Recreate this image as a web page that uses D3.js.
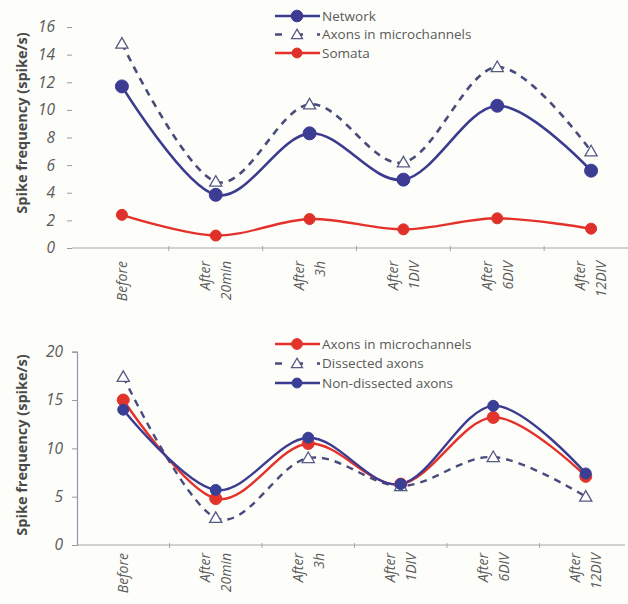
<!DOCTYPE html>
<html>
<head>
<meta charset="utf-8">
<script src="https://cdn.jsdelivr.net/npm/d3@7"></script>
<style>
  html, body { margin: 0; padding: 0; background: #fdfdf9; }
  svg { display: block; }
  text { font-family: "Open Sans", "Liberation Sans", sans-serif; }
</style>
</head>
<body>
<svg id="chart" width="628" height="604"></svg>
<script>
// ---------- data ----------
const categories = ["Before", "After 20min", "After 3h", "After 1DIV", "After 6DIV", "After 12DIV"];
const categoryLines = [["Before"], ["After", "20min"], ["After", "3h"], ["After", "1DIV"], ["After", "6DIV"], ["After", "12DIV"]];

// top panel
const topNetwork = [11.7, 3.85, 8.3, 4.95, 10.3, 5.6];
const topAxons   = [14.8, 4.8, 10.4, 6.2, 13.1, 7.0];
const topSomata  = [2.4, 0.9, 2.1, 1.35, 2.15, 1.4];
const topTicks   = [0, 2, 4, 6, 8, 10, 12, 14, 16];

// bottom panel
const botAxonsMicro    = [15.0, 4.8, 10.5, 6.3, 13.2, 7.1];
const botDissected     = [17.4, 2.8, 9.0, 6.1, 9.1, 5.0];
const botNonDissected  = [14.0, 5.7, 11.1, 6.3, 14.4, 7.4];
const botTicks         = [0, 5, 10, 15, 20];

const legendTop = ["Network", "Axons in microchannels", "Somata"];
const legendBot = ["Axons in microchannels", "Dissected axons", "Non-dissected axons"];
const yTitle = "Spike frequency (spike/s)";

// ---------- styles ----------
const NAVY = "#3b3b8f";
const RED = "#e5312b";
const DASH = "#474c7c";
const TXT = "#5a5a5a";

const svg = d3.select("#chart");

function panel(cfg) {
  const g = svg.append("g");
  const x = d3.scalePoint().domain(categories).range(cfg.xRange).padding(0.5);
  const y = d3.scaleLinear().domain([0, cfg.yMax]).range([cfg.y0, cfg.yTop]);
  const step = x.step();

  // y axis
  const yAxis = d3.axisLeft(y).tickValues(cfg.ticks).tickSize(cfg.yTickLen).tickPadding(cfg.yPad).tickFormat(d3.format("d"));
  const ya = g.append("g").attr("transform", `translate(${cfg.yAxisX},0)`).call(yAxis);
  ya.select(".domain").attr("stroke", cfg.showYLine ? "#8f95b5" : "none").attr("stroke-width", 1.2);
  ya.selectAll(".tick line").attr("stroke", "#9a9aa8");
  ya.selectAll(".tick text").attr("fill", TXT).attr("font-size", 15.5).attr("font-style", "italic")
    .attr("font-family", '"Open Sans", sans-serif');

  // x axis line
  g.append("line").attr("x1", cfg.yAxisX).attr("x2", cfg.xAxisEnd).attr("y1", cfg.y0).attr("y2", cfg.y0)
    .attr("stroke", "#a8a8a8").attr("stroke-width", 1.2);
  // separator ticks
  categories.slice(1).forEach(c => {
    const xs = x(c) - step / 2;
    g.append("line").attr("x1", xs).attr("x2", xs).attr("y1", cfg.y0 - 2).attr("y2", cfg.y0 + 3)
      .attr("stroke", "#a8a8a8").attr("stroke-width", 1);
  });

  // x labels
  categories.forEach((c, i) => {
    const lines = categoryLines[i];
    const n = lines.length;
    lines.forEach((t, j) => {
      const off = (j - (n - 1) / 2) * 21;
      g.append("text")
        .attr("transform", `translate(${x(c) + off},${cfg.labelTop}) rotate(-90)`)
        .attr("text-anchor", "end").attr("dy", "0.35em")
        .attr("font-size", 14).attr("font-style", "italic").attr("fill", TXT)
        .text(t);
    });
  });

  // y title
  g.append("text")
    .attr("transform", `translate(22,${cfg.titleY}) rotate(-90)`)
    .attr("text-anchor", "middle").attr("dy", "0.35em")
    .attr("font-size", 14.5).attr("font-weight", "bold").attr("fill", "#4a4a4a")
    .text(yTitle);

  const line = d3.line().x((d, i) => x(categories[i])).y(d => y(d)).curve(d3.curveCatmullRom.alpha(0));

  cfg.series.forEach(s => {
    g.append("path").datum(s.values).attr("d", line)
      .attr("fill", "none").attr("stroke", s.color).attr("stroke-width", s.width)
      .attr("stroke-dasharray", s.dash ? "7,6" : null);
  });
  cfg.series.forEach(s => {
    s.values.forEach((v, i) => {
      drawMarker(g, s, x(categories[i]), y(v));
    });
  });

  // legend
  cfg.legend.forEach((name, i) => {
    const s = cfg.series[i];
    const ly = cfg.legendY + i * cfg.legendStep;
    g.append("line").attr("x1", 275).attr("x2", 320).attr("y1", ly).attr("y2", ly)
      .attr("stroke", s.color).attr("stroke-width", s.width)
      .attr("stroke-dasharray", s.dash ? "7,14" : null);
    drawMarker(g, s, 297, ly, 0.9);
    g.append("text").attr("x", 322).attr("y", ly).attr("dy", "0.35em")
      .attr("font-size", 13.5).attr("fill", TXT).text(name);
  });
}

function drawMarker(g, s, cx, cy, k = 1) {
  if (s.marker === "circle") {
    g.append("circle").attr("cx", cx).attr("cy", cy).attr("r", s.r * k)
      .attr("fill", s.mfill).attr("stroke", s.mfill).attr("stroke-width", 1);
  } else {
    g.append("path").attr("d", d3.symbol(d3.symbolTriangle, 64 * k * k)())
      .attr("transform", `translate(${cx},${cy + 1})`)
      .attr("fill", "#ffffff").attr("stroke", "#555a80").attr("stroke-width", 1.3);
  }
}

panel({
  xRange: [75, 638], yAxisX: 72, xAxisEnd: 628, y0: 248, yTop: 27, yMax: 16,
  ticks: topTicks, yTickLen: 5, yPad: 12, showYLine: false,
  labelTop: 261, titleY: 123,
  legend: legendTop, legendY: 16, legendStep: 18.5,
  series: [
    { values: topNetwork, color: NAVY, width: 2.6, marker: "circle", mfill: "#3c3c94", r: 6.5 },
    { values: topAxons, color: DASH, width: 2.6, dash: true, marker: "triangle" },
    { values: topSomata, color: RED, width: 2.4, marker: "circle", mfill: "#e0302a", r: 5.5 }
  ]
});

panel({
  xRange: [77, 632], yAxisX: 77, xAxisEnd: 625, y0: 545, yTop: 351.7, yMax: 20,
  ticks: botTicks, yTickLen: 5, yPad: 9, showYLine: true,
  labelTop: 553, titleY: 445,
  legend: legendBot, legendY: 344, legendStep: 19.5,
  series: [
    { values: botAxonsMicro, color: RED, width: 2.4, marker: "circle", mfill: "#e3342c", r: 6 },
    { values: botDissected, color: DASH, width: 2.4, dash: true, marker: "triangle" },
    { values: botNonDissected, color: NAVY, width: 2.4, marker: "circle", mfill: "#3a3f96", r: 5.5 }
  ]
});
</script>
</body>
</html>
